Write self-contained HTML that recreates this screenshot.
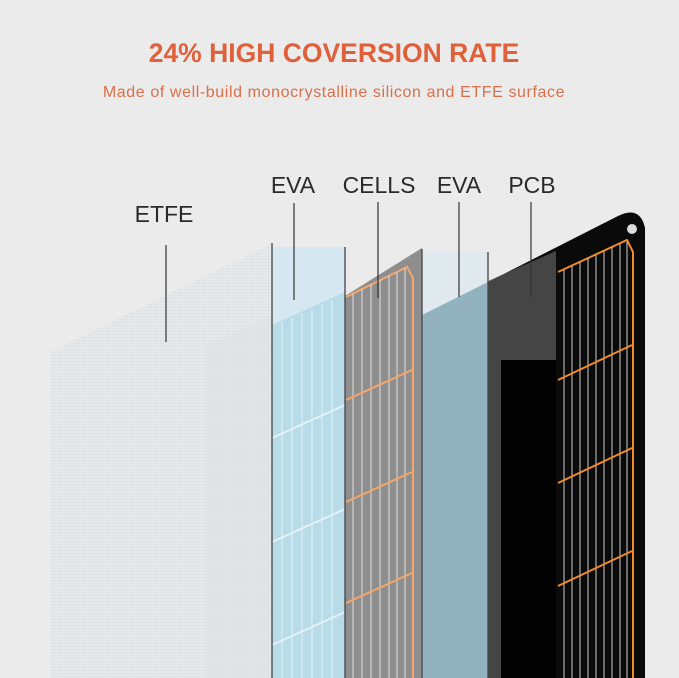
<!DOCTYPE html>
<html><head><meta charset="utf-8"><style>
html,body{margin:0;padding:0;background:#ebebeb;}
svg{display:block;}
</style></head><body>
<svg width="679" height="678" viewBox="0 0 679 678">
<defs>
<pattern id="mesh" width="3" height="3" patternUnits="userSpaceOnUse">
<rect width="3" height="3" fill="#e6e8ea"/><circle cx="1.5" cy="1.5" r="0.8" fill="#d9dcdf"/>
</pattern>
</defs>
<rect width="679" height="678" fill="#ebebeb"/>
<text x="334" y="62" text-anchor="middle" font-family="Liberation Sans, sans-serif" font-weight="bold" font-size="26.5" fill="#e0603a">24% HIGH COVERSION RATE</text>
<text x="334" y="97" text-anchor="middle" font-family="Liberation Sans, sans-serif" font-size="16" letter-spacing="0.6" fill="#d9704a">Made of well-build monocrystalline silicon and ETFE surface</text>

<g>
<path d="M488 282 L618 216 Q640 205 645 228 L645 678 L488 678 Z" fill="#0a0a0a"/>
<circle cx="632" cy="229" r="5" fill="#ddd"/>
<path d="M558 272 L627 240 L633 252 L633 678" fill="none" stroke="#f08a2a" stroke-width="2"/>
<g stroke="#cfcfcf" stroke-width="1">
<line x1="564" y1="270" x2="564" y2="678"/><line x1="572" y1="266" x2="572" y2="678"/><line x1="580" y1="262" x2="580" y2="678"/><line x1="588" y1="258" x2="588" y2="678"/><line x1="596" y1="255" x2="596" y2="678"/><line x1="604" y1="251" x2="604" y2="678"/><line x1="612" y1="247" x2="612" y2="678"/><line x1="620" y1="244" x2="620" y2="678"/><line x1="627" y1="242" x2="627" y2="678"/>
</g>
<g stroke="#f08a2a" stroke-width="2">
<line x1="558" y1="380" x2="632" y2="345"/><line x1="558" y1="483" x2="632" y2="448"/><line x1="558" y1="586" x2="632" y2="551"/>
</g>
<path d="M488 281 L556 251 L556 678 L488 678 Z" fill="#5a5a5a" opacity="0.75"/>
<rect x="501" y="360" width="55" height="318" fill="#020202"/>
</g>
<g>
<path d="M422 250 L488 252 L488 678 L422 678 Z" fill="#dbe9f0" opacity="0.7"/>
<path d="M422 315 L488 282 L488 678 L422 678 Z" fill="#93b2bf"/>
</g>
<g>
<path d="M345 296 L422 248 L422 678 L345 678 Z" fill="#8e8e8e"/>
<path d="M346 297 L407 267 L413 278 L413 678" fill="none" stroke="#f5a66a" stroke-width="2"/>
<g stroke="#dedede" stroke-width="1">
<line x1="353" y1="293" x2="353" y2="678"/><line x1="362" y1="289" x2="362" y2="678"/><line x1="371" y1="284" x2="371" y2="678"/><line x1="380" y1="280" x2="380" y2="678"/><line x1="389" y1="276" x2="389" y2="678"/><line x1="397" y1="272" x2="397" y2="678"/><line x1="405" y1="268" x2="405" y2="678"/>
</g>
<g stroke="#f5a66a" stroke-width="2">
<line x1="346" y1="400" x2="412" y2="370"/><line x1="346" y1="502" x2="412" y2="472"/><line x1="346" y1="603" x2="412" y2="573"/>
</g>
</g>
<g>
<path d="M272 247 L345 247 L345 678 L272 678 Z" fill="#d5e7f1"/>
<path d="M272 325 L345 292 L345 678 L272 678 Z" fill="#b8dbe8"/>
<g stroke="#e3f2f8" stroke-width="1">
<line x1="282" y1="322" x2="282" y2="678"/><line x1="292" y1="318" x2="292" y2="678"/><line x1="302" y1="313" x2="302" y2="678"/><line x1="312" y1="309" x2="312" y2="678"/><line x1="322" y1="304" x2="322" y2="678"/><line x1="332" y1="300" x2="332" y2="678"/>
</g>
<g stroke="#e3f2f8" stroke-width="2">
<line x1="272" y1="438" x2="345" y2="405"/><line x1="272" y1="542" x2="345" y2="509"/><line x1="272" y1="645" x2="345" y2="612"/>
</g>
</g>
<g>
<path d="M50 352 L271 244 L271 678 L50 678 Z" fill="url(#mesh)" opacity="0.95"/>
<path d="M205 345 L271 315 L271 678 L205 678 Z" fill="#dcdee0" opacity="0.35"/>
</g>
<g stroke="#444" stroke-width="1.3">
<line x1="272" y1="243" x2="272" y2="678"/><line x1="345" y1="247" x2="345" y2="678"/><line x1="422" y1="249" x2="422" y2="678"/><line x1="488" y1="252" x2="488" y2="678"/>
</g>
<g font-family="Liberation Sans, sans-serif" font-size="23" fill="#2a2a2a" text-anchor="middle">
<text x="164" y="222">ETFE</text>
<text x="293" y="193">EVA</text>
<text x="379" y="193">CELLS</text>
<text x="459" y="193">EVA</text>
<text x="532" y="193">PCB</text>
</g>
<g stroke="#333" stroke-width="1.2">
<line x1="166" y1="245" x2="166" y2="342"/><line x1="294" y1="203" x2="294" y2="300"/><line x1="378" y1="202" x2="378" y2="298"/><line x1="459" y1="202" x2="459" y2="297"/><line x1="531" y1="202" x2="531" y2="297"/>
</g>
</svg>
</body></html>
